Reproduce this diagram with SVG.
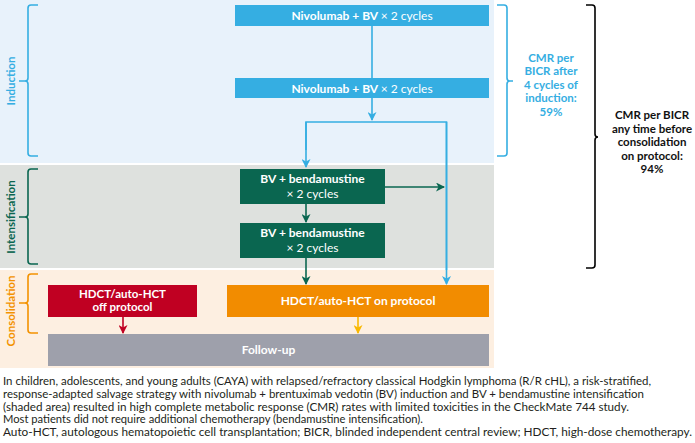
<svg xmlns="http://www.w3.org/2000/svg" width="695" height="443" viewBox="0 0 695 443">
<style>
text{font-family:Lato,"Noto Sans","Liberation Sans",sans-serif}
.b{font-weight:bold;font-size:12px;fill:#fff;text-anchor:middle}
.s{font-size:11.5px}
.r{font-weight:normal}
.lab{font-weight:bold;font-size:11.5px;text-anchor:middle}
.ph{font-weight:bold;font-size:11.5px;text-anchor:middle}
.foot{font-size:11px;fill:#231f20}
.cn{fill:none;stroke-width:1.6}
.br{fill:none;stroke-width:1.6;stroke-linejoin:round}
</style>
<defs>
<marker id="ab" markerWidth="9" markerHeight="9" refX="8" refY="4.5" orient="auto" markerUnits="userSpaceOnUse"><path d="M0,0 L9,4.5 L0,9 L2.5,4.5z" fill="#35aee2"/></marker>
<marker id="ag" markerWidth="9" markerHeight="9" refX="8" refY="4.5" orient="auto" markerUnits="userSpaceOnUse"><path d="M0,0 L9,4.5 L0,9 L2.5,4.5z" fill="#0a6650"/></marker>
<marker id="ar" markerWidth="9" markerHeight="9" refX="8" refY="4.5" orient="auto" markerUnits="userSpaceOnUse"><path d="M0,0 L9,4.5 L0,9 L2.5,4.5z" fill="#c00022"/></marker>
<marker id="ay" markerWidth="9" markerHeight="9" refX="8" refY="4.5" orient="auto" markerUnits="userSpaceOnUse"><path d="M0,0 L9,4.5 L0,9 L2.5,4.5z" fill="#f9b800"/></marker>
</defs>
<rect width="695" height="443" fill="#fff"/>
<g id="panels">
<rect x="0" y="0" width="494" height="163" fill="#e8f2fb"/>
<rect x="0" y="165" width="494" height="103" fill="#dee1de"/>
<rect x="0" y="270" width="494" height="98" fill="#fdefe1"/>
</g>
<g id="phase-induction">
<path class="br" stroke="#35aee2" d="M38,5 H31 Q28,5 28,8 V78 Q28,81 25,81 H19 M25,81 Q28,81 28,84 V153 Q28,156 31,156 H38"/>
<text class="ph" fill="#35aee2" transform="translate(15,81) rotate(-90)">Induction</text>
</g>
<g id="phase-intensification">
<path class="br" stroke="#0a6650" d="M38,169 H31 Q28,169 28,172 V214 Q28,217 25,217 H19 M25,217 Q28,217 28,220 V261 Q28,264 31,264 H38"/>
<text class="ph" fill="#0a6650" transform="translate(15,217) rotate(-90)">Intensification</text>
</g>
<g id="phase-consolidation">
<path class="br" stroke="#f39200" d="M38,274 H31 Q28,274 28,277 V300 Q28,303 25,303 H19 M25,303 Q28,303 28,306 V330 Q28,333 31,333 H38"/>
<text class="ph" fill="#f39200" transform="translate(15,311) rotate(-90)">Consolidation</text>
</g>
<g id="connectors">
<line class="cn" stroke="#35aee2" x1="372" y1="26" x2="372" y2="78"/>
<line class="cn" stroke="#35aee2" x1="372" y1="98" x2="372" y2="120" marker-end="url(#ab)"/>
<polyline class="cn" stroke="#35aee2" points="306,150 306,122 446.5,122 446.5,270"/>
<line class="cn" stroke="#35aee2" x1="306" y1="122" x2="306" y2="167" marker-end="url(#ab)"/>
<line class="cn" stroke="#35aee2" x1="446.5" y1="122" x2="446.5" y2="284" marker-end="url(#ab)"/>
<line class="cn" stroke="#0a6650" x1="306" y1="204" x2="306" y2="222" marker-end="url(#ag)"/>
<line class="cn" stroke="#0a6650" x1="306" y1="258" x2="306" y2="284" marker-end="url(#ag)"/>
<line class="cn" stroke="#0a6650" x1="385" y1="187" x2="444" y2="187" marker-end="url(#ag)"/>
<line class="cn" stroke="#c00022" x1="123" y1="317" x2="123" y2="333" marker-end="url(#ar)"/>
<line class="cn" stroke="#f9b800" x1="358" y1="317" x2="358" y2="333" marker-end="url(#ay)"/>
</g>
<g id="nivo1">
<rect x="235" y="5" width="254" height="21" fill="#35aee2"/>
<text class="b" x="362" y="19.5">Nivolumab + BV <tspan class="r">× 2 cycles</tspan></text>
</g>
<g id="nivo2">
<rect x="235" y="78" width="254" height="20" fill="#35aee2"/>
<text class="b" x="362" y="92.5">Nivolumab + BV <tspan class="r">× 2 cycles</tspan></text>
</g>
<g id="bv1">
<rect x="240" y="169" width="145" height="35" fill="#0a6650"/>
<text class="b" x="312.5" y="183">BV + bendamustine</text>
<text class="b r" x="312.5" y="197.5">× 2 cycles</text>
</g>
<g id="bv2">
<rect x="240" y="223" width="145" height="35" fill="#0a6650"/>
<text class="b" x="312.5" y="236.5">BV + bendamustine</text>
<text class="b r" x="312.5" y="251.5">× 2 cycles</text>
</g>
<g id="hdct-off">
<rect x="48" y="285" width="149" height="32" fill="#c00022"/>
<text class="b s" x="122.5" y="297.5">HDCT/auto-HCT</text>
<text class="b s" x="122.5" y="311">off protocol</text>
</g>
<g id="hdct-on">
<rect x="227" y="285" width="262" height="32" fill="#f28c00"/>
<text class="b" x="358" y="305">HDCT/auto-HCT on protocol</text>
</g>
<g id="followup">
<rect x="48" y="334" width="441" height="32" fill="#9ea0ab"/>
<text class="b" x="268.5" y="354">Follow-up</text>
</g>
<g id="cmr-induction">
<path class="br" stroke="#35aee2" d="M497,5 H504 Q507,5 507,8 V78 Q507,81 510,81 H513 M510,81 Q507,81 507,84 V153 Q507,156 504,156 H497"/>
<text class="lab" fill="#35aee2"><tspan x="551" y="61.5">CMR per</tspan><tspan x="551" y="75">BICR after</tspan><tspan x="551" y="88.5">4 cycles of</tspan><tspan x="551" y="102">induction:</tspan><tspan x="551" y="115.5">59%</tspan></text>
</g>
<g id="cmr-any">
<path class="br" stroke="#000" d="M586,5 H592 Q595,5 595,8 V134 Q595,137 598,137 M598,137 Q595,137 595,140 V265 Q595,268 592,268 H586"/>
<text class="lab" fill="#111"><tspan x="652" y="119">CMR per BICR</tspan><tspan x="652" y="132.5">any time before</tspan><tspan x="652" y="146">consolidation</tspan><tspan x="652" y="159.5">on protocol:</tspan><tspan x="652" y="173">94%</tspan></text>
</g>
<g id="footnote">
<text class="foot" x="3" y="385" textLength="648" lengthAdjust="spacingAndGlyphs">In children, adolescents, and young adults (CAYA) with relapsed/refractory classical Hodgkin lymphoma (R/R cHL), a risk-stratified,</text>
<text class="foot" x="3" y="398" textLength="641" lengthAdjust="spacingAndGlyphs">response-adapted salvage strategy with nivolumab + brentuximab vedotin (BV) induction and BV + bendamustine intensification</text>
<text class="foot" x="3" y="410.5" textLength="626" lengthAdjust="spacingAndGlyphs">(shaded area) resulted in high complete metabolic response (CMR) rates with limited toxicities in the CheckMate 744 study.</text>
<text class="foot" x="3" y="423" textLength="420" lengthAdjust="spacingAndGlyphs">Most patients did not require additional chemotherapy (bendamustine intensification).</text>
<text class="foot" x="3" y="436" textLength="689" lengthAdjust="spacingAndGlyphs">Auto-HCT, autologous hematopoietic cell transplantation; BICR, blinded independent central review; HDCT, high-dose chemotherapy.</text>
</g>
</svg>
